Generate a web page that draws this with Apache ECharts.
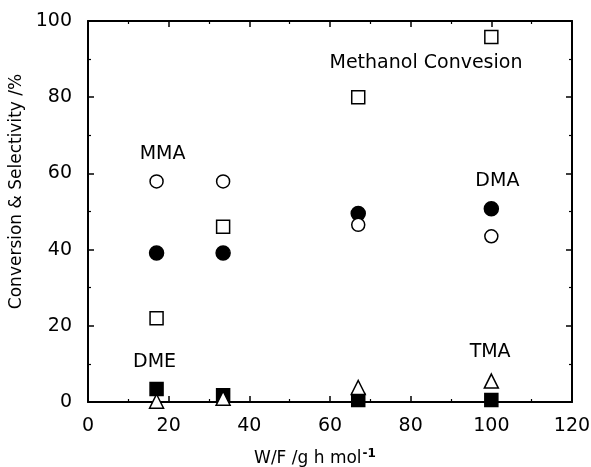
<!DOCTYPE html>
<html>
<head>
<meta charset="utf-8">
<script src="https://cdn.jsdelivr.net/npm/echarts@6/dist/echarts.min.js"></script>
<style>
  html, body { margin: 0; padding: 0; background: #fff; }
  #chart { width: 591px; height: 467px; }
</style>
</head>
<body>
<div id="chart"></div>
<script>
// W/F values
var wf = [17, 33.5, 67, 100];
// series values
var methanolConv = [22, 46, 80, 95.8];
var mma = [57.9, 57.9, 46.5, 43.5];
var dma = [39.1, 39.1, 49.5, 50.7];
var dme = [3.4, 1.8, 0.5, 0.5];
var tma = [0.2, 1.0, 3.8, 5.5];
// annotation text and where it sits (data units)
var labelText = ['MMA', 'Methanol Convesion', 'DMA', 'DME', 'TMA'];
var labelX = [18.5, 83.8, 101.5, 16.5, 99.7];
var labelY = [65.0, 89.0, 58.0, 10.4, 13.2];

var font = 'DejaVu Sans, Verdana, sans-serif';

function pairs(ys) {
    var out = [];
    for (var i = 0; i < wf.length; i++) out.push([wf[i], ys[i]]);
    return out;
}

function markSeries(name, ys, symbol, size, fill) {
    return {
        name: name,
        type: 'scatter',
        data: pairs(ys),
        symbol: symbol,
        symbolSize: size,
        itemStyle: { color: fill, borderColor: '#000', borderWidth: 1.5, opacity: 1 },
        emphasis: { disabled: true },
        z: 5
    };
}

var labelData = [];
for (var i = 0; i < labelText.length; i++) {
    labelData.push([labelX[i], labelY[i], labelText[i]]);
}

var tick = { show: true, inside: true, length: 6, lineStyle: { color: '#000', width: 1.5 } };
var minor = { show: true, splitNumber: 2, length: 3, lineStyle: { color: '#000', width: 1.2 } };
var line = { show: true, onZero: false, lineStyle: { color: '#000', width: 2 } };

var option = {
    animation: false,
    backgroundColor: '#fff',
    grid: { left: 88, right: 19, top: 21, bottom: 65, outerBoundsMode: 'none', containLabel: false },
    xAxis: [
        {
            type: 'value', min: 0, max: 120, interval: 20,
            axisLine: line, axisTick: tick, minorTick: minor,
            splitLine: { show: false },
            axisLabel: { color: '#000', fontSize: 19, fontFamily: font, margin: 15 },
            name: '{a|W/F /g h mol}{b|-1}',
            nameLocation: 'middle',
            nameGap: 46,
            nameTextStyle: {
                padding: [0, 30, 0, 0],
                rich: {
                    a: { fontSize: 17, fontFamily: font, color: '#000' },
                    b: { fontSize: 12, fontWeight: 'bold', fontFamily: font, color: '#000', padding: [0, 0, 9, 1] }
                }
            }
        },
        {
            type: 'value', min: 0, max: 120, interval: 20, position: 'top',
            axisLine: line, axisTick: tick, minorTick: minor,
            splitLine: { show: false }, axisLabel: { show: false }
        }
    ],
    yAxis: [
        {
            type: 'value', min: 0, max: 100, interval: 20,
            axisLine: line, axisTick: tick, minorTick: minor,
            splitLine: { show: false },
            axisLabel: { color: '#000', fontSize: 19, fontFamily: font, margin: 16 },
            name: 'Conversion & Selectivity /%',
            nameLocation: 'middle',
            nameGap: 56,
            nameTextStyle: { color: '#000', fontSize: 17, fontFamily: font, padding: [0, 0, 0, 40] }
        },
        {
            type: 'value', min: 0, max: 100, interval: 20, position: 'right',
            axisLine: line, axisTick: tick, minorTick: minor,
            splitLine: { show: false }, axisLabel: { show: false }
        }
    ],
    series: [
        markSeries('DMA', dma, 'circle', 14, '#000'),
        markSeries('MMA', mma, 'circle', 13, '#fff'),
        markSeries('DME', dme, 'rect', 13, '#000'),
        markSeries('TMA', tma, 'triangle', 14, '#fff'),
        markSeries('Methanol Conversion', methanolConv, 'rect', 13, '#fff'),
        {
            type: 'scatter',
            data: labelData,
            symbolSize: 0,
            silent: true,
            itemStyle: { opacity: 1 },
            label: {
                show: true,
                position: 'inside',
                formatter: function (p) { return p.data[2]; },
                color: '#000',
                textBorderWidth: 0,
                textBorderColor: 'transparent',
                fontSize: 19,
                fontFamily: font
            },
            z: 6
        }
    ]
};

var chart = echarts.init(document.getElementById('chart'));
chart.setOption(option);
</script>
</body>
</html>
